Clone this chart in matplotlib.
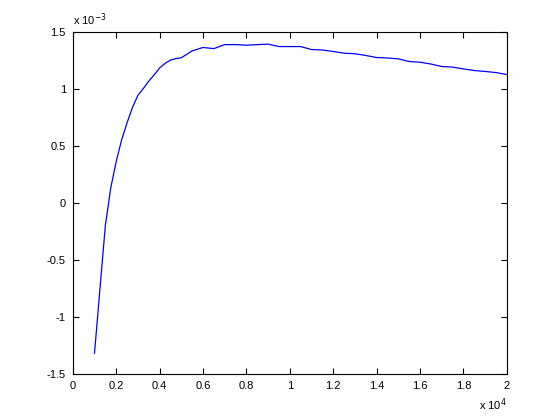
import matplotlib
matplotlib.use("Agg")
import matplotlib.pyplot as plt

# x in units of 10^4, y in units of 10^-3 (as shown on the axes)
x = [0.100, 0.125, 0.150, 0.175, 0.200, 0.225, 0.250, 0.275, 0.300, 0.325,
     0.350, 0.375, 0.400, 0.425, 0.450, 0.475, 0.50, 0.55,
     0.60, 0.65, 0.70, 0.75, 0.80, 0.85, 0.90, 0.95, 1.00, 1.05,
     1.10, 1.15, 1.20, 1.25, 1.30, 1.35, 1.40, 1.45, 1.50, 1.55,
     1.60, 1.65, 1.70, 1.75, 1.80, 1.85, 1.90, 1.95, 2.00]
y = [-1.32, -0.76, -0.20, 0.13, 0.36, 0.55, 0.70, 0.835, 0.94, 1.00,
     1.065, 1.12, 1.18, 1.22, 1.25, 1.262, 1.27, 1.33,
     1.36, 1.35, 1.385, 1.385, 1.38, 1.385, 1.389, 1.368, 1.368, 1.368,
     1.342, 1.338, 1.325, 1.31, 1.305, 1.29, 1.272, 1.268, 1.26, 1.237,
     1.231, 1.215, 1.193, 1.188, 1.172, 1.158, 1.15, 1.14, 1.123]

xticks = [0, 0.2, 0.4, 0.6, 0.8, 1, 1.2, 1.4, 1.6, 1.8, 2]
xticklabels = ["0", "0.2", "0.4", "0.6", "0.8", "1", "1.2", "1.4", "1.6", "1.8", "2"]
yticks = [-1.5, -1, -0.5, 0, 0.5, 1, 1.5]
yticklabels = ["-1.5", "-1", "-0.5", "0", "0.5", "1", "1.5"]

plt.rcParams['font.family'] = ['Liberation Sans', 'DejaVu Sans']

fig = plt.figure(figsize=(5.6, 4.2), dpi=100)
ax = fig.add_axes([0.13, 0.11, 0.775, 0.815])
ax.plot(x, y, color='#0000ff', lw=0.9)

ax.set_xlim(0, 2)
ax.set_ylim(-1.5, 1.5)
ax.set_xticks(xticks)
ax.set_xticklabels(xticklabels)
ax.set_yticks(yticks)
ax.set_yticklabels(yticklabels)
ax.tick_params(direction='in', length=4, width=0.8, top=True, right=True,
               labelsize=8, pad=5)
for s in ax.spines.values():
    s.set_linewidth(0.8)

# MATLAB-style exponent labels
ax.text(0.0, 1.01, r'x 10$^{-3}$', transform=ax.transAxes, fontsize=8,
        ha='left', va='bottom')
ax.text(1.0, -0.065, r'x 10$^{4}$', transform=ax.transAxes, fontsize=8,
        ha='right', va='top')

fig.savefig("out.png", dpi=100)
